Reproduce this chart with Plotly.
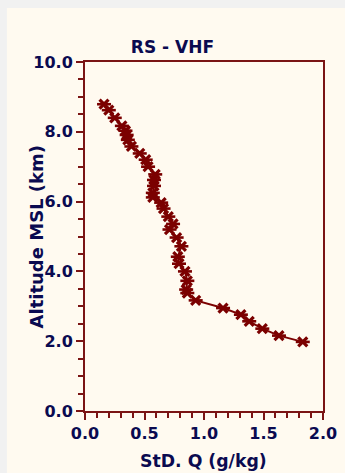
import plotly.graph_objects as go

# Data
std_q = [0.16, 0.20, 0.25, 0.31, 0.34, 0.35, 0.36, 0.39, 0.46, 0.51, 0.53, 0.59,
         0.58, 0.58, 0.57, 0.57, 0.64, 0.66, 0.70, 0.74, 0.71, 0.77, 0.81, 0.78,
         0.79, 0.84, 0.86, 0.85, 0.86, 0.93, 1.16, 1.31, 1.38, 1.49, 1.63, 1.83]
altitude = [8.79, 8.62, 8.40, 8.17, 8.03, 7.91, 7.77, 7.58, 7.38, 7.20, 7.00, 6.78,
            6.62, 6.45, 6.25, 6.12, 5.97, 5.80, 5.57, 5.36, 5.20, 4.97, 4.72, 4.42,
            4.22, 4.00, 3.73, 3.48, 3.38, 3.17, 2.95, 2.76, 2.57, 2.36, 2.16, 1.98]

title_text = "RS - VHF"
x_title = "StD. Q (g/kg)"
y_title = "Altitude MSL (km)"

maroon = "#7B0000"
axis_col = "#7A1414"
navy = "#0A0A50"
cream = "#FFFAF0"
font_fam = "DejaVu Sans"

fig = go.Figure()
fig.add_trace(go.Scatter(
    x=std_q, y=altitude, mode="lines+markers",
    line=dict(color=maroon, width=2),
    marker=dict(symbol="x-thin-open", size=9, color=maroon,
                line=dict(color=maroon, width=3.2)),
    showlegend=False, hoverinfo="skip"))
fig.add_trace(go.Scatter(
    x=std_q, y=altitude, mode="markers",
    marker=dict(symbol="line-ew-open", size=10, color=maroon,
                line=dict(color=maroon, width=2.6)),
    showlegend=False, hoverinfo="skip"))

L, R, T, B = 85, 22.3, 62, 62
W, H = 345, 473
pw, ph = W - L - R, H - T - B

def px_x(p):
    return (p - L) / pw

def px_y(p):
    return (H - B - p) / ph

title_font = dict(family=font_fam, size=17.3, color=navy, weight="bold")

fig.update_layout(
    width=W, height=H,
    margin=dict(l=L, r=R, t=T, b=B, pad=0, autoexpand=False),
    paper_bgcolor="#F1F1F1",
    plot_bgcolor=cream,
    shapes=[dict(type="rect", xref="paper", yref="paper",
                 x0=px_x(7), x1=px_x(W + 5), y0=px_y(H + 5), y1=px_y(8),
                 fillcolor=cream, line=dict(width=0), layer="below")],
    title=dict(text=title_text, x=px_x(203.8), xanchor="center",
               y=1 - 47 / H, yanchor="middle",
               font=dict(family=font_fam, size=17, color=navy, weight="bold")),
    annotations=[
        dict(text=y_title, textangle=-90, xref="paper", yref="paper",
             x=px_x(37), y=0.5, xanchor="center", yanchor="middle",
             showarrow=False, font=dict(title_font, size=18)),
        dict(text=x_title, xref="paper", yref="paper",
             x=px_x(203.8), y=px_y(461), xanchor="center", yanchor="middle",
             showarrow=False, font=title_font),
    ],
    xaxis=dict(range=[0, 2], dtick=0.5, tick0=0, tickformat=".1f",
               showgrid=False, zeroline=False, automargin=False,
               showline=True, linecolor=axis_col, linewidth=2, mirror=True,
               ticks="outside", ticklen=7, tickwidth=2, tickcolor=axis_col,
               minor=dict(dtick=0.1, ticks="outside", ticklen=5, tickwidth=2,
                          tickcolor=axis_col, showgrid=False),
               tickfont=dict(family=font_fam, size=16, color=navy, weight="bold")),
    yaxis=dict(range=[0, 10], dtick=2, tick0=0, tickformat=".1f",
               showgrid=False, zeroline=False, automargin=False,
               showline=True, linecolor=axis_col, linewidth=2, mirror=True,
               ticks="outside", ticklen=7, tickwidth=2, tickcolor=axis_col,
               minor=dict(dtick=0.5, ticks="outside", ticklen=5, tickwidth=2,
                          tickcolor=axis_col, showgrid=False),
               tickfont=dict(family=font_fam, size=16, color=navy, weight="bold")),
)

fig.write_html("out.html")
